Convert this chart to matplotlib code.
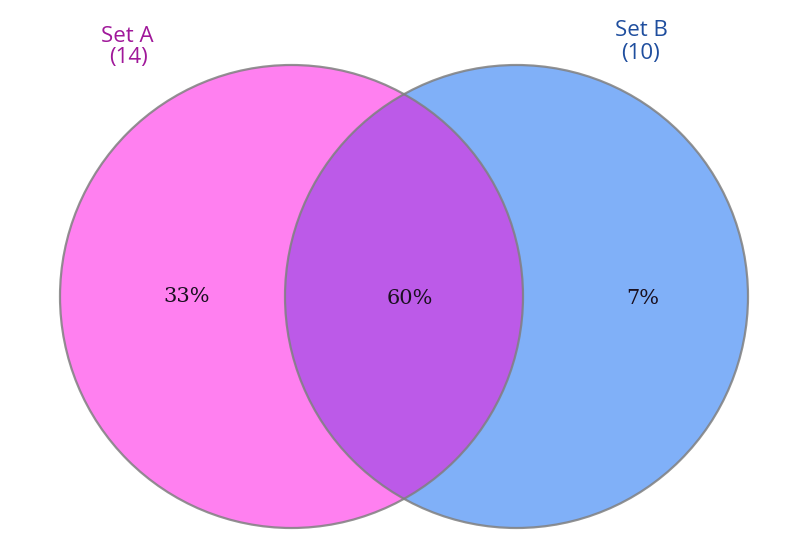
import matplotlib
matplotlib.use("Agg")
import matplotlib.pyplot as plt
from matplotlib.patches import Circle

# set sizes and region shares
set_names = ["Set A", "Set B"]
set_sizes = [14, 10]
region_labels = ["33%", "60%", "7%"]

col_a = "#ff80f0"
col_b = "#80b0f8"
col_ab = "#bc5ae8"
label_cols = ["#a0189a", "#1f4e9e"]

fig = plt.figure(figsize=(7.99, 5.49), dpi=100)
ax = fig.add_axes([0, 0, 1, 1])
ax.set_xlim(0, 799)
ax.set_ylim(549, 0)
ax.axis("off")

r = 231.5
ca = (291.5, 296.5)
cb = (516.5, 296.5)

circ_a = Circle(ca, r, facecolor=col_a, edgecolor="none")
circ_b = Circle(cb, r, facecolor=col_b, edgecolor="none")
ax.add_patch(circ_a)
ax.add_patch(circ_b)

# overlap: circle B clipped to circle A
clip_a = Circle(ca, r, transform=ax.transData)
over = Circle(cb, r, facecolor=col_ab, edgecolor="none")
ax.add_patch(over)
over.set_clip_path(clip_a)

for c in (ca, cb):
    ax.add_patch(Circle(c, r, facecolor="none", edgecolor="#808080",
                        linewidth=1.6, alpha=0.85))

# set titles
fs = 16
ax.text(127, 37, set_names[0], color=label_cols[0], fontsize=fs,
        family="Open Sans", ha="center", va="center")
ax.text(128, 58, "(%d)" % set_sizes[0], color=label_cols[0], fontsize=fs,
        family="Open Sans", ha="center", va="center")
ax.text(641, 31, set_names[1], color=label_cols[1], fontsize=fs,
        family="Open Sans", ha="center", va="center")
ax.text(640, 53, "(%d)" % set_sizes[1], color=label_cols[1], fontsize=fs,
        family="Open Sans", ha="center", va="center")

# region percentages
pos = [(187, 296), (410, 299), (643, 299)]
for (x, y), t in zip(pos, region_labels):
    ax.text(x, y, t, fontsize=15, family="DejaVu Serif", color="#1a1020",
            ha="center", va="center")

fig.savefig("out.png", dpi=100)
